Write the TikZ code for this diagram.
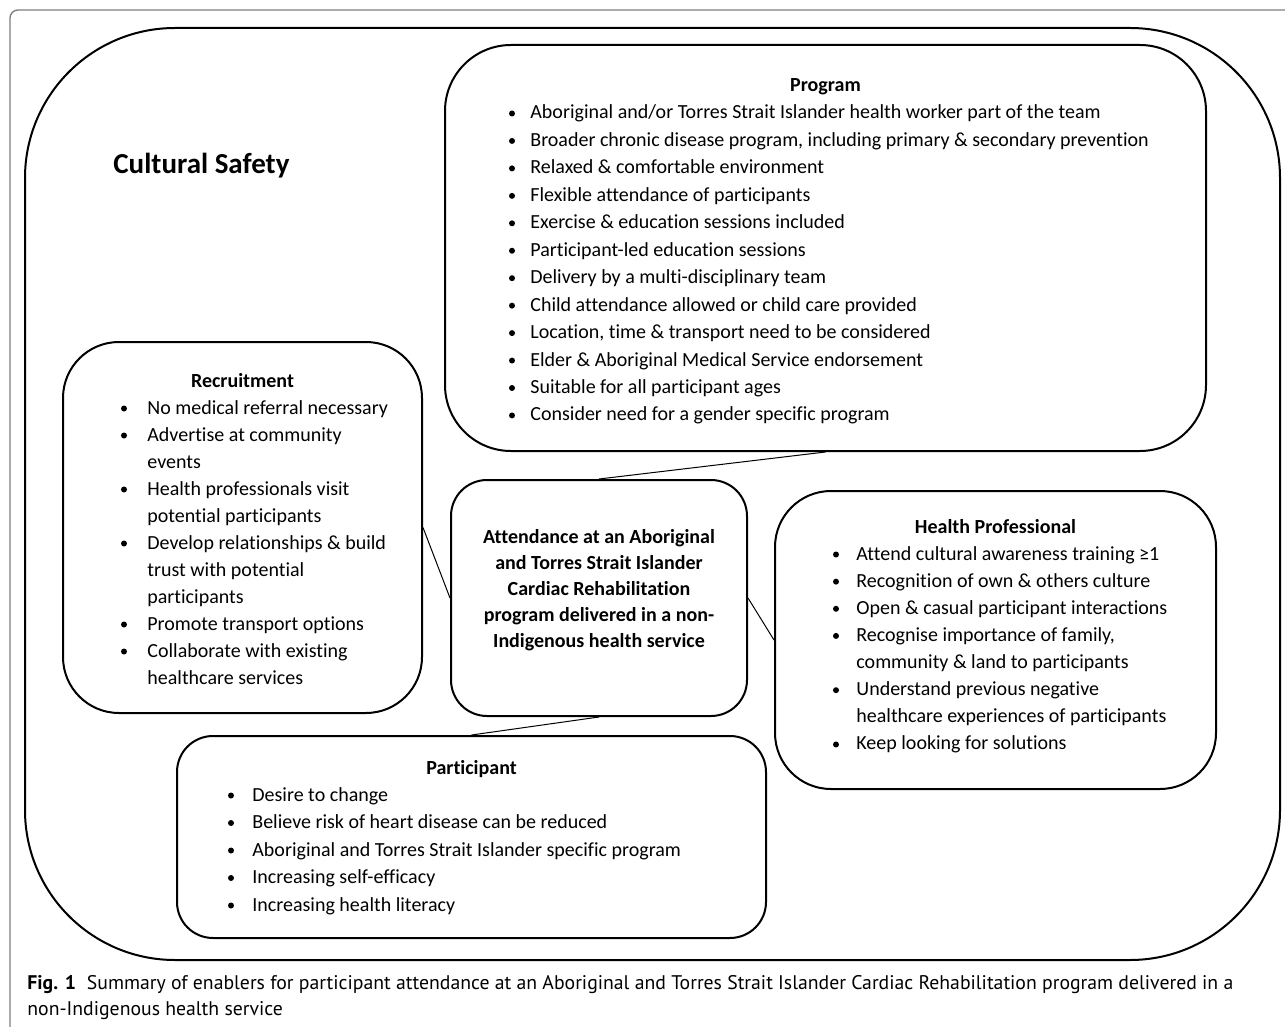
\documentclass[tikz,border=0pt]{standalone}
\usepackage{fontspec}
\setmainfont{Carlito}[Ligatures={NoCommon}]
\newfontfamily\capfont{PT Sans}[Ligatures={NoCommon}]
\begin{document}
\begin{tikzpicture}[x=0.5pt,y=-0.5pt,
  panel/.style={draw, line width=1pt, rectangle, inner sep=0pt},
  link/.style={line width=0.5pt},
  head/.style={anchor=base, inner sep=0pt, font=\fontsize{10}{12}\selectfont\bfseries},
  itemtext/.style={anchor=base west, inner sep=0pt, font=\fontsize{10}{12}\selectfont},
  captext/.style={anchor=base west, inner sep=0pt, font=\capfont\fontsize{9.87}{12}\selectfont},
]
\useasboundingbox (0,0) rectangle (1285,1027);

% frame of the figure and its caption
\draw[black!50, line width=0.7pt, rounded corners=4pt] (1300,10) -- (10,10) -- (10,1040);

% outer cultural safety region
\node[panel, minimum width=627.5pt, minimum height=466pt, rounded corners=75pt] (safety) at (652.5,494) {};
\node[anchor=base west, inner sep=0pt, font=\fontsize{14.5}{17}\selectfont\bfseries] (safetytitle) at (113,174) {Cultural Safety};

% the five panels
\node[panel, minimum width=380.5pt, minimum height=203pt, rounded corners=33pt] (program) at (825.5,248) {};
\node[panel, minimum width=179.5pt, minimum height=185.5pt, rounded corners=28pt] (recruit) at (242.5,527.5) {};
\node[panel, minimum width=148pt, minimum height=118pt, rounded corners=18pt] (centre) at (599,598) {};
\node[panel, minimum width=220.5pt, minimum height=149pt, rounded corners=28pt] (health) at (995.5,640) {};
\node[panel, minimum width=294.5pt, minimum height=101pt, rounded corners=18pt] (particip) at (471.5,837) {};

% connectors
\draw[link] (program.south) -- (centre.north);
\draw[link] (recruit.east) -- (centre.west);
\draw[link] (centre.east) -- (health.west);
\draw[link] (centre.south) -- (particip.north);

% central statement
\node[align=center, inner sep=0pt, font=\fontsize{10}{13}\selectfont\bfseries] (centretext) at (599,590)
  {Attendance at an Aboriginal\\and Torres Strait Islander\\Cardiac Rehabilitation\\program delivered in a non-\\Indigenous health service};

% Program
\node[head] (programtitle) at (825.5,92) {Program};
\foreach \b/\t [count=\i] in {
  1/{Aboriginal and/or Torres Strait Islander health worker part of the team},
  1/{Broader chronic disease program, including primary \& secondary prevention},
  1/{Relaxed \& comfortable environment},
  1/{Flexible attendance of participants},
  1/{Exercise \& education sessions included},
  1/{Participant-led education sessions},
  1/{Delivery by a multi-disciplinary team},
  1/{Child attendance allowed or child care provided},
  1/{Location, time \& transport need to be considered},
  1/{Elder \& Aboriginal Medical Service endorsement},
  1/{Suitable for all participant ages},
  1/{Consider need for a gender specific program}}{
  \node[itemtext] (prog-\i) at (530,{119+27.45*(\i-1)}) {\t};
  \ifnum\b=1 \fill (512,{119+27.45*(\i-1)-5.5}) circle (1.5pt);\fi
}

% Recruitment
\node[head] (recruittitle) at (242.5,387) {Recruitment};
\foreach \b/\t [count=\i] in {
  1/{No medical referral necessary},
  1/{Advertise at community},
  0/{events},
  1/{Health professionals visit},
  0/{potential participants},
  1/{Develop relationships \& build},
  0/{trust with potential},
  0/{participants},
  1/{Promote transport options},
  1/{Collaborate with existing},
  0/{healthcare services}}{
  \node[itemtext] (rec-\i) at (147,{414+27*(\i-1)}) {\t};
  \ifnum\b=1 \fill (124,{414+27*(\i-1)-5.5}) circle (1.5pt);\fi
}

% Health Professional
\node[head] (healthtitle) at (995.5,533) {Health Professional};
\foreach \b/\t [count=\i] in {
  1/{Attend cultural awareness training ≥1},
  1/{Recognition of own \& others culture},
  1/{Open \& casual participant interactions},
  1/{Recognise importance of family,},
  0/{community \& land to participants},
  1/{Understand previous negative},
  0/{healthcare experiences of participants},
  1/{Keep looking for solutions}}{
  \node[itemtext] (hp-\i) at (856,{560+27.14*(\i-1)}) {\t};
  \ifnum\b=1 \fill (836,{560+27.14*(\i-1)-5.5}) circle (1.5pt);\fi
}

% Participant
\node[head] (participtitle) at (471.5,774) {Participant};
\foreach \b/\t [count=\i] in {
  1/{Desire to change},
  1/{Believe risk of heart disease can be reduced},
  1/{Aboriginal and Torres Strait Islander specific program},
  1/{Increasing self-efficacy},
  1/{Increasing health literacy}}{
  \node[itemtext] (par-\i) at (252,{801+27.5*(\i-1)}) {\t};
  \ifnum\b=1 \fill (231,{801+27.5*(\i-1)-5.5}) circle (1.5pt);\fi
}

% caption
\node[captext] (cap-1) at (27,989) {\textbf{Fig. 1}\hspace{0.55em}Summary of enablers for participant attendance at an Aboriginal and Torres Strait Islander Cardiac Rehabilitation program delivered in a};
\node[captext] (cap-2) at (27,1015) {non-Indigenous health service};
\end{tikzpicture}
\end{document}
